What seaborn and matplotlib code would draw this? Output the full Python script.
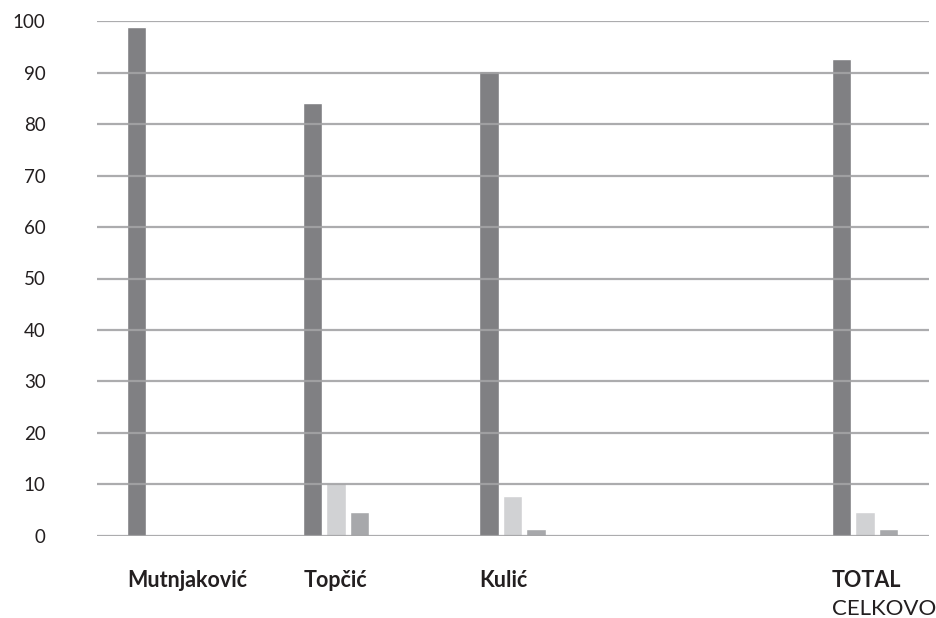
import matplotlib
matplotlib.use("Agg")
import matplotlib.pyplot as plt
import matplotlib.transforms as mtransforms
import numpy as np
import pandas as pd
import seaborn as sns

# Categories (an unlabeled slot separates the individual results from the total)
categories = ["Mutnjaković", "Topčić", "Kulić", " ", "TOTAL"]
series_names = ["primary", "secondary", "tertiary"]

primary = [98.9, 84.1, 90.4, np.nan, 92.7]
secondary = [np.nan, 10.2, 7.7, np.nan, 4.6]
tertiary = [np.nan, 4.6, 1.3, np.nan, 1.3]

total_subtitle = "CELKOVO"
y_ticks = [0, 10, 20, 30, 40, 50, 60, 70, 80, 90, 100]

palette = {"primary": "#808083", "secondary": "#d1d2d4", "tertiary": "#a7a8ab"}
text_color = "#231f20"
grid_color = "#a3a3a5"

rows = []
for cat, a, b, c in zip(categories, primary, secondary, tertiary):
    for name, val in zip(series_names, (a, b, c)):
        rows.append({"category": cat, "series": name, "value": val})
df = pd.DataFrame(rows).dropna()

sns.set_theme(style="white")
plt.rcParams["font.family"] = ["Lato", "DejaVu Sans"]

fig = plt.figure(figsize=(9.37, 6.18), dpi=100)
ax = fig.add_axes([97 / 937, 82.3 / 618, (929 - 97) / 937, (596.7 - 82.3) / 618])

sns.barplot(
    data=df, x="category", y="value", hue="series",
    order=categories, hue_order=series_names, palette=palette,
    width=0.4, gap=0.17, saturation=1, legend=False, ax=ax, zorder=2,
)

ax.set_xlim(-0.3575, 4.3646)
ax.set_ylim(0, 100)
ax.set_yticks(y_ticks)
for y in y_ticks:
    ax.axhline(y, color=grid_color, lw=1.6, zorder=3, alpha=0.9)

for s in ax.spines.values():
    s.set_visible(False)

ax.set_xlabel("")
ax.set_ylabel("")
ax.tick_params(axis="y", length=0, pad=37, labelsize=13.5, labelcolor=text_color)
ax.tick_params(axis="x", length=0, pad=25, labelsize=15.5, labelcolor=text_color)
ax.set_xticks(range(len(categories)))
ax.set_xticklabels(categories, fontweight="bold")
shift = mtransforms.ScaledTranslation(-33 / 100, 0, fig.dpi_scale_trans)
for lbl in ax.get_xticklabels():
    lbl.set_horizontalalignment("left")
    lbl.set_transform(lbl.get_transform() + shift)

ax.text(4, 0, total_subtitle, transform=ax.get_xaxis_transform() + shift +
        mtransforms.ScaledTranslation(0, -0.73, fig.dpi_scale_trans),
        ha="left", va="center", fontsize=16, color=text_color)

fig.savefig("out.png", dpi=100)
